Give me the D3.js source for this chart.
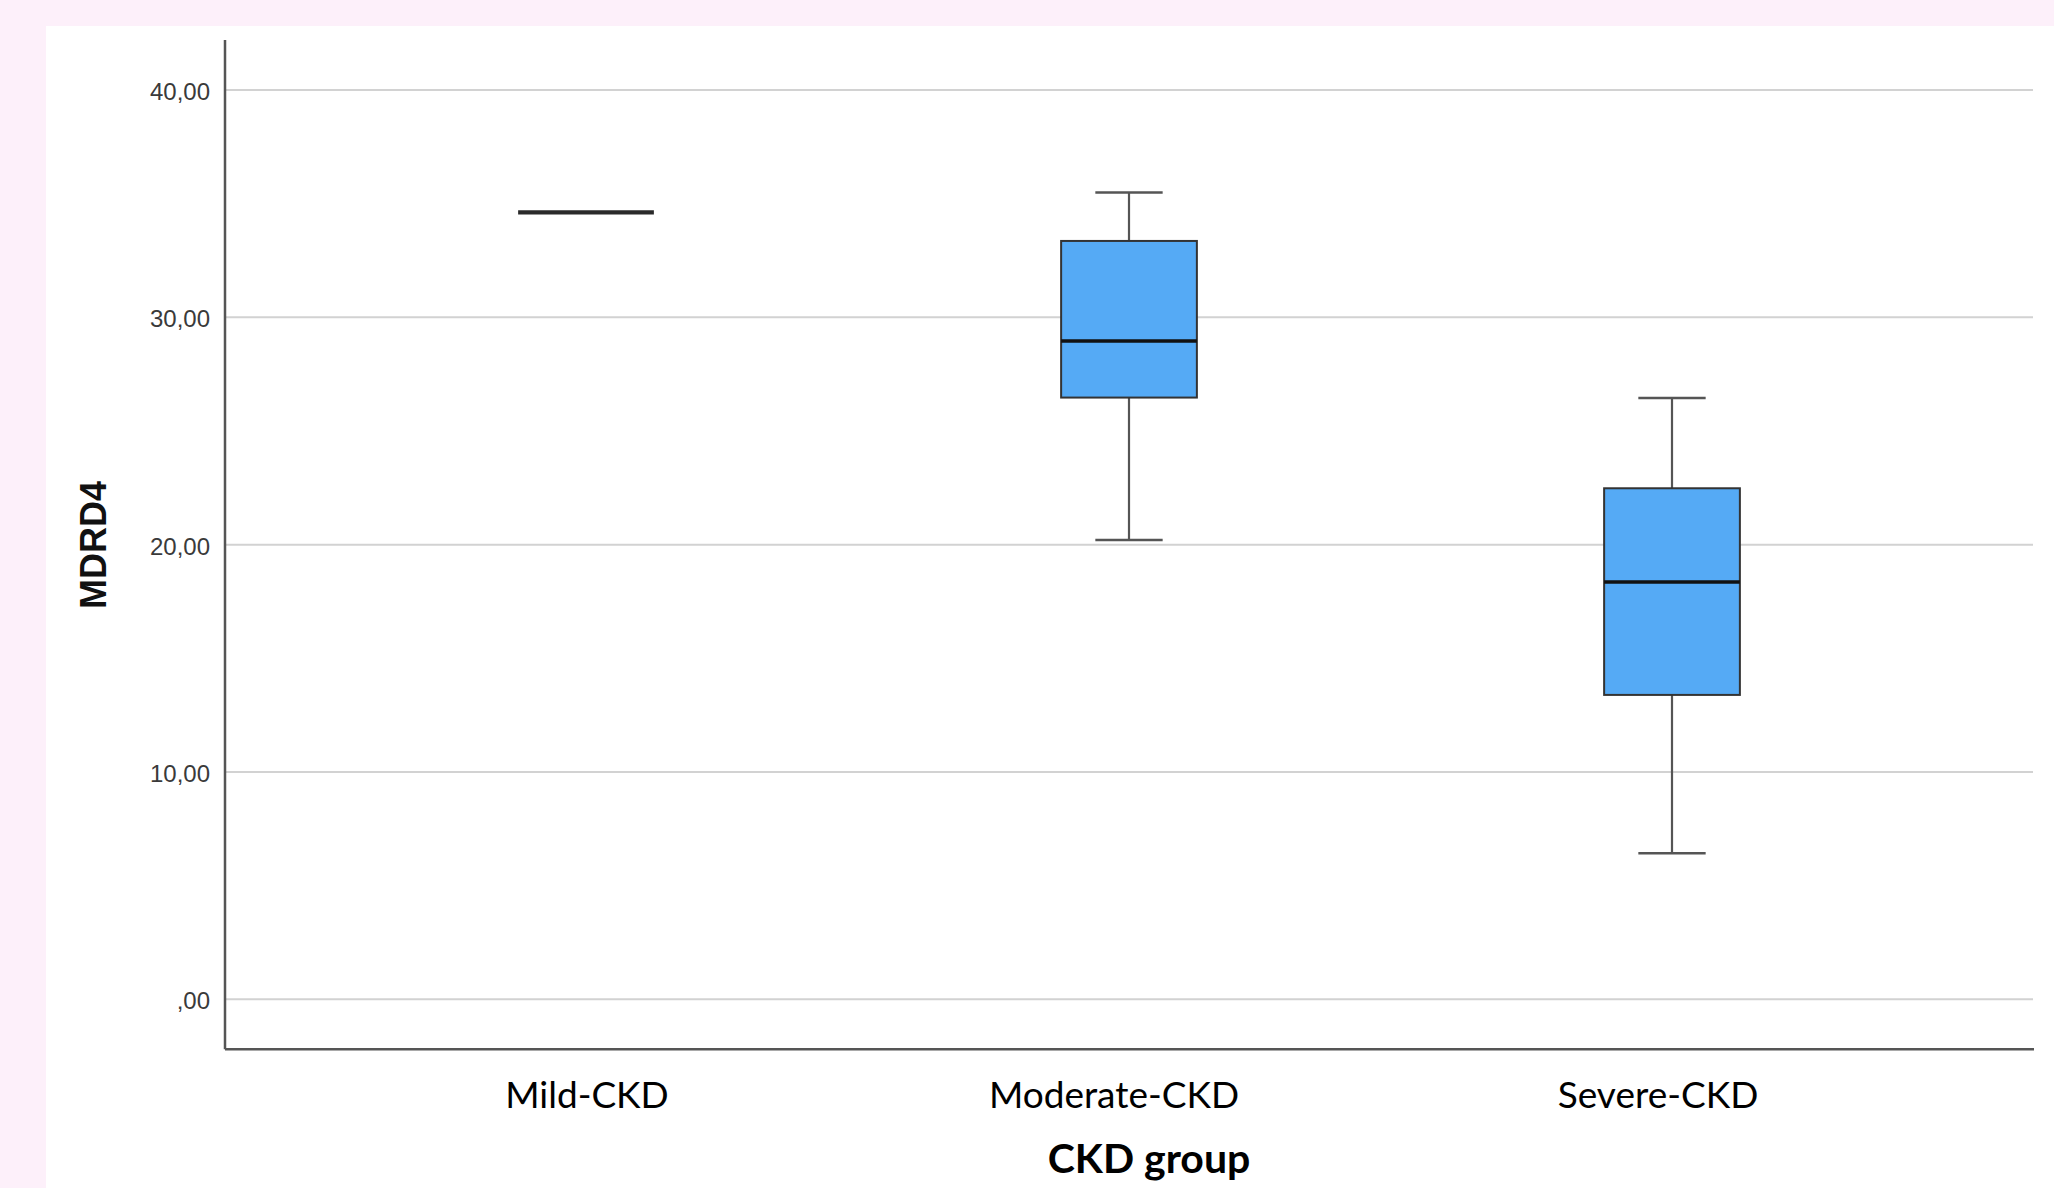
<!DOCTYPE html>
<html>
<head>
<meta charset="utf-8">
<script src="https://cdn.jsdelivr.net/npm/d3@7"></script>
<style>
  html, body { margin: 0; padding: 0; background: #fdf0fa; }
  svg { display: block; }
</style>
</head>
<body>
<svg id="chart" width="2054" height="1188"></svg>
<script>
// CKD groups and MDRD4 box-plot summaries
const groups   = ["Mild-CKD", "Moderate-CKD", "Severe-CKD"];
const whiskLo  = [34.62, 20.21, 6.42];
const q1       = [34.62, 26.47, 13.39];
const median   = [34.62, 28.96, 18.36];
const q3       = [34.62, 33.36, 22.48];
const whiskHi  = [34.62, 35.49, 26.45];
const yTicks   = [0, 10, 20, 30, 40];
const yTickLabels = [",00", "10,00", "20,00", "30,00", "40,00"];

const svg = d3.select("#chart");
const W = 2054, H = 1188;

// white panel on the pink page
svg.append("rect").attr("x", 46).attr("y", 26).attr("width", W - 46).attr("height", H - 26).attr("fill", "#ffffff");

const axisLeft = 225, axisRight = 2034;
const y = d3.scaleLinear().domain([0, 40]).range([999.3, 90]);
const yAxisMin = -2.2, yAxisMax = 42.2;
const x = d3.scaleBand().domain(groups).range([314.5, 1943.5]);
const boxW = x.bandwidth() * 0.25;
const capW = x.bandwidth() * 0.124;
const cx = g => x(g) + x.bandwidth() / 2;
// category labels sit slightly left of their boxes
const labelNudge = { "Mild-CKD": 1, "Moderate-CKD": -15, "Severe-CKD": -14 };

// gridlines
svg.append("g").selectAll("line").data(yTicks).join("line")
  .attr("x1", axisLeft).attr("x2", axisRight - 1)
  .attr("y1", d => y(d)).attr("y2", d => y(d))
  .attr("stroke", "#d2d2d2").attr("stroke-width", 2);

// y axis with tick labels
const yAxis = d3.axisLeft(y).tickValues(yTicks)
  .tickFormat((d, i) => yTickLabels[i]).tickSize(0).tickPadding(15);
const gy = svg.append("g").attr("transform", `translate(${axisLeft},0)`).call(yAxis);
gy.select(".domain").remove();
gy.selectAll("text")
  .attr("font-family", "Liberation Sans, Arial, sans-serif")
  .attr("font-size", 24).attr("fill", "#3a3a3a").attr("dy", "0.4em");

// axis lines
svg.append("line").attr("x1", axisLeft).attr("x2", axisLeft)
  .attr("y1", y(yAxisMax)).attr("y2", y(yAxisMin))
  .attr("stroke", "#555").attr("stroke-width", 2.5);
svg.append("line").attr("x1", axisLeft).attr("x2", axisRight)
  .attr("y1", y(yAxisMin)).attr("y2", y(yAxisMin))
  .attr("stroke", "#555").attr("stroke-width", 2.5);

// boxes
const data = groups.map((g, i) => ({
  g, lo: whiskLo[i], q1: q1[i], med: median[i], q3: q3[i], hi: whiskHi[i]
}));
const box = svg.append("g").selectAll("g").data(data).join("g");

const spread = box.filter(d => d.hi > d.lo);
// whiskers
spread.append("line").attr("x1", d => cx(d.g)).attr("x2", d => cx(d.g))
  .attr("y1", d => y(d.hi)).attr("y2", d => y(d.q3))
  .attr("stroke", "#555").attr("stroke-width", 2.2);
spread.append("line").attr("x1", d => cx(d.g)).attr("x2", d => cx(d.g))
  .attr("y1", d => y(d.q1)).attr("y2", d => y(d.lo))
  .attr("stroke", "#555").attr("stroke-width", 2.2);
// caps
spread.append("line").attr("x1", d => cx(d.g) - capW / 2).attr("x2", d => cx(d.g) + capW / 2)
  .attr("y1", d => y(d.hi)).attr("y2", d => y(d.hi))
  .attr("stroke", "#555").attr("stroke-width", 2.5);
spread.append("line").attr("x1", d => cx(d.g) - capW / 2).attr("x2", d => cx(d.g) + capW / 2)
  .attr("y1", d => y(d.lo)).attr("y2", d => y(d.lo))
  .attr("stroke", "#555").attr("stroke-width", 2.5);
// box body
spread.append("rect")
  .attr("x", d => cx(d.g) - boxW / 2).attr("width", boxW)
  .attr("y", d => y(d.q3)).attr("height", d => y(d.q1) - y(d.q3))
  .attr("fill", "#55aaf5").attr("stroke", "#333").attr("stroke-width", 2);
// medians
box.append("line").attr("x1", d => cx(d.g) - boxW / 2).attr("x2", d => cx(d.g) + boxW / 2)
  .attr("y1", d => y(d.med)).attr("y2", d => y(d.med))
  .attr("stroke", d => d.hi > d.lo ? "#111" : "#2a2a2a")
  .attr("stroke-width", d => d.hi > d.lo ? 3.5 : 4.2);

// category labels
svg.append("g").selectAll("text").data(groups).join("text")
  .attr("x", d => cx(d) + labelNudge[d]).attr("y", 1108)
  .attr("text-anchor", "middle")
  .attr("font-family", "Lato, 'Open Sans', sans-serif")
  .attr("font-size", 37).attr("fill", "#000")
  .text(d => d);

// axis titles
svg.append("text").attr("x", 1149).attr("y", 1173).attr("text-anchor", "middle")
  .attr("font-family", "Lato, 'Open Sans', sans-serif").attr("font-weight", "bold")
  .attr("font-size", 41).attr("fill", "#000").text("CKD group");
svg.append("text").attr("transform", "translate(106,545) rotate(-90)")
  .attr("text-anchor", "middle")
  .attr("font-family", "Liberation Sans, Arial, sans-serif").attr("font-weight", "bold")
  .attr("font-size", 36).attr("fill", "#111").text("MDRD4");
</script>
</body>
</html>
